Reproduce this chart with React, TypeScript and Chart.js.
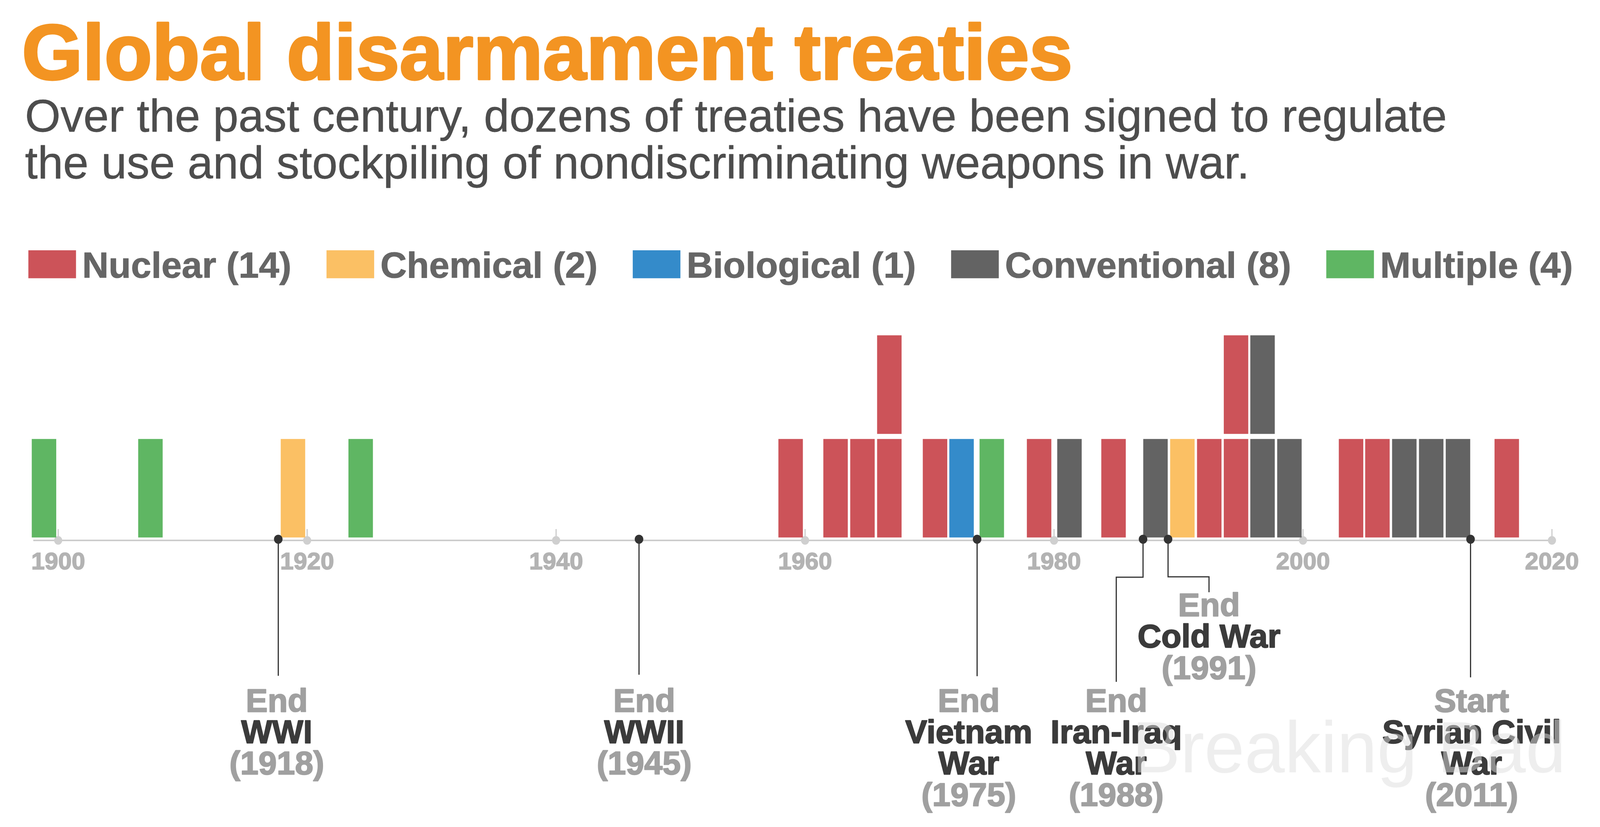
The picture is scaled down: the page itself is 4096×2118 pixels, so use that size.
import { useEffect, useRef } from 'react';
import { Chart, registerables } from 'chart.js';

Chart.register(...registerables);

const FONT = '"Liberation Sans", Arial, Helvetica, sans-serif';

// ---------- text ----------
const titleText = 'Global disarmament treaties';
const subtitleLines = [
  'Over the past century, dozens of treaties have been signed to regulate',
  'the use and stockpiling of nondiscriminating weapons in war.',
];
const watermarkText = 'Breaking Bad';

// ---------- categories ----------
const categories = ['Nuclear', 'Chemical', 'Biological', 'Conventional', 'Multiple'];
const categoryColors = ['#CC5359', '#FBC064', '#348BCA', '#636363', '#5FB663'];

// ---------- treaties (position on the time axis, stack level) ----------
const nuclearYears = [1958.84, 1962.45, 1964.61, 1966.77, 1966.77, 1970.44, 1978.8, 1984.78, 1992.47, 1994.62, 1994.62, 2003.86, 2005.98, 2016.37];
const nuclearLevels = [0, 0, 0, 0, 1, 0, 0, 0, 0, 0, 1, 0, 0, 0];
const chemicalYears = [1918.86, 1990.31];
const chemicalLevels = [0, 0];
const biologicalYears = [1972.57];
const biologicalLevels = [0];
const conventionalYears = [1981.24, 1988.15, 1996.75, 1996.75, 1998.91, 2008.14, 2010.3, 2012.45];
const conventionalLevels = [0, 0, 0, 1, 0, 0, 0, 0];
const multipleYears = [1898.86, 1907.41, 1924.3, 1975.0];
const multipleLevels = [0, 0, 0, 0];

const seriesYears = [nuclearYears, chemicalYears, biologicalYears, conventionalYears, multipleYears];
const seriesLevels = [nuclearLevels, chemicalLevels, biologicalLevels, conventionalLevels, multipleLevels];

// ---------- axis ----------
const tickYears = [1900, 1920, 1940, 1960, 1980, 2000, 2020];
const axisStartYear = 1898;

// ---------- historical events ----------
const eventYears = [1918, 1945, 1975, 1988, 1991, 2011];
const eventPrefixes = ['End', 'End', 'End', 'End', 'End', 'Start'];
const eventNames = [['WWI'], ['WWII'], ['Vietnam', 'War'], ['Iran-Iraq', 'War'], ['Cold War'], ['Syrian Civil', 'War']];
const eventMarkerX = [1917.68, 1946.66, 1973.82, 1987.15, 1989.16, 2013.46];
const eventLabelX = [1917.56, 1947.08, 1973.15, 1985.0, 1992.45, 2013.55];

// ---------- layout (window px) ----------
const S = 0.968;
const eventLineEndY = [1788, 1785, 1789, 1804, 1567, 1792].map((v) => v * S);
const eventFirstBaseline = [1883, 1883, 1883, 1883, 1630, 1883].map((v) => v * S);
const eventElbowY: (number | null)[] = [null, null, null, 1527 * S, 1526 * S, null];
const BAR_BASE = 0.0306;
const BAR_GAP = 0.054;

const datasets = categories.map((c, i) => ({
  label: `${c} (${seriesYears[i].length})`,
  data: seriesYears[i].map((yr, j) => {
    const lo = BAR_BASE + seriesLevels[i][j] * (1 + BAR_GAP);
    return { x: yr, y: [lo, lo + 1] };
  }),
  backgroundColor: categoryColors[i],
  borderWidth: 0,
  barThickness: 62,
  grouped: false,
}));

function boldText(ctx: any, text: string, x: number, y: number, color: string, stroke: number) {
  ctx.fillStyle = color;
  if (stroke > 0) {
    ctx.strokeStyle = color;
    ctx.lineWidth = stroke;
    ctx.lineJoin = 'round';
    ctx.strokeText(text, x, y);
  }
  ctx.fillText(text, x, y);
}

const customPlugin = {
  id: 'treatyDecor',
  beforeDatasetsDraw(chart: any) {
    const ctx = chart.ctx;
    const xs = chart.scales.x;
    const ay = chart.chartArea.bottom;
    ctx.save();
    ctx.strokeStyle = '#cccccc';
    ctx.lineWidth = 4;
    ctx.beginPath();
    ctx.moveTo(xs.getPixelForValue(axisStartYear), ay);
    ctx.lineTo(xs.getPixelForValue(tickYears[tickYears.length - 1]), ay);
    ctx.stroke();
    tickYears.forEach((t) => {
      const px = xs.getPixelForValue(t);
      ctx.strokeStyle = '#cccccc';
      ctx.lineWidth = 3;
      ctx.beginPath();
      ctx.moveTo(px, ay - 29);
      ctx.lineTo(px, ay);
      ctx.stroke();
      ctx.fillStyle = '#cfcfcf';
      ctx.beginPath();
      ctx.ellipse(px, ay, 10.5, 11, 0, 0, Math.PI * 2);
      ctx.fill();
    });
    ctx.restore();
  },
  afterDatasetsDraw(chart: any) {
    const ctx = chart.ctx;
    const xs = chart.scales.x;
    const ay = chart.chartArea.bottom;
    ctx.save();
    const lineH = 83 * S;
    eventYears.forEach((yr, i) => {
      const mx = xs.getPixelForValue(eventMarkerX[i]);
      const lx = xs.getPixelForValue(eventLabelX[i]);
      const dotY = ay - 3;
      ctx.strokeStyle = '#333333';
      ctx.lineWidth = 3;
      ctx.lineJoin = 'miter';
      ctx.beginPath();
      ctx.moveTo(mx, dotY);
      const ey = eventElbowY[i];
      if (ey !== null) {
        ctx.lineTo(mx, ey);
        ctx.lineTo(lx, ey);
        ctx.lineTo(lx, eventLineEndY[i]);
      } else {
        ctx.lineTo(mx, eventLineEndY[i]);
      }
      ctx.stroke();
      ctx.fillStyle = '#333333';
      ctx.beginPath();
      ctx.ellipse(mx, dotY, 11, 11.5, 0, 0, Math.PI * 2);
      ctx.fill();

      const lines: { t: string; c: string }[] = [];
      lines.push({ t: eventPrefixes[i], c: '#a0a0a0' });
      eventNames[i].forEach((n) => lines.push({ t: n, c: '#3b3b3b' }));
      lines.push({ t: `(${yr})`, c: '#a0a0a0' });
      ctx.font = `bold 84px ${FONT}`;
      ctx.textAlign = 'center';
      ctx.textBaseline = 'alphabetic';
      lines.forEach((ln, k) => {
        boldText(ctx, ln.t, lx, eventFirstBaseline[i] + k * lineH, ln.c, 2.5);
      });
    });
    ctx.restore();
  },
  afterDraw(chart: any) {
    const ctx = chart.ctx;
    ctx.save();
    ctx.textAlign = 'left';
    ctx.textBaseline = 'alphabetic';
    // title
    ctx.font = `bold 200px ${FONT}`;
    boldText(ctx, titleText, 56, 203, '#F39422', 5);
    // subtitle
    ctx.font = `117px ${FONT}`;
    subtitleLines.forEach((l, k) => boldText(ctx, l, 64, 337 + k * 120, '#4d4d4d', 0.8));
    // legend
    let lx = 72.6;
    const boxTop = 641;
    const boxW = 122;
    const boxH = 71.6;
    ctx.font = `bold 93.5px ${FONT}`;
    chart.data.datasets.forEach((ds: any) => {
      ctx.fillStyle = ds.backgroundColor;
      ctx.fillRect(lx, boxTop, boxW, boxH);
      const tx = lx + boxW + 16;
      boldText(ctx, ds.label, tx, 710.5, '#666666', 1.2);
      lx = tx + ctx.measureText(ds.label).width + 90;
    });
    // watermark
    ctx.font = `185px ${FONT}`;
    ctx.fillStyle = 'rgba(222,222,222,0.5)';
    ctx.fillText(watermarkText, 2898, 1978);
    ctx.restore();
  },
};

export default function App() {
  const ref = useRef<HTMLCanvasElement>(null);
  useEffect(() => {
    if (!ref.current) return;
    const chart = new Chart(ref.current, {
      type: 'bar',
      data: { datasets: datasets as any },
      options: {
        responsive: false,
        animation: false,
        devicePixelRatio: 1,
        events: [],
        layout: { padding: { top: 830, bottom: 614, left: 21.5, right: 27.4 } },
        plugins: {
          legend: { display: false },
          tooltip: { enabled: false },
          title: { display: false },
        },
        scales: {
          x: {
            type: 'linear',
            min: 1896,
            max: 2023,
            offset: false,
            grid: { display: false, drawTicks: false },
            border: { display: false },
            ticks: {
              color: '#b3b3b3',
              font: { family: FONT, size: 62, weight: 'bold' },
              textStrokeColor: '#b3b3b3',
              textStrokeWidth: 2,
              padding: 20,
              maxRotation: 0,
              autoSkip: false,
              callback: (v: any) => String(v),
            },
            afterBuildTicks: (s: any) => {
              s.ticks = tickYears.map((v) => ({ value: v }));
            },
            afterFit: (s: any) => {
              s.height = 120;
            },
          },
          y: { type: 'linear', min: 0, max: 2.2, display: false },
        },
      } as any,
      plugins: [customPlugin],
    });
    return () => chart.destroy();
  }, []);
  return (
    <div style={{ position: 'fixed', left: 0, top: 0, width: 4096, height: 2118, background: '#ffffff' }}>
      <canvas ref={ref} width={4096} height={2118} style={{ display: 'block', width: 4096, height: 2118 }} />
    </div>
  );
}
